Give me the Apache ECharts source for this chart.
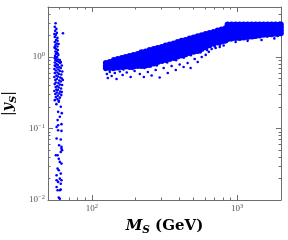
<!DOCTYPE html>
<html><head><meta charset="utf-8">
<script src="https://cdn.jsdelivr.net/npm/echarts@6/dist/echarts.min.js"></script>
<style>html,body{margin:0;padding:0;background:#fff}#c{width:288px;height:240px}</style>
</head><body><div id="c"></div>
<script>
// ---- data ----
const xRange = [50, 2000];
const yRange = [0.01, 5];
const xMajorTicks = [100, 1000];
const xMajorExp = ['2', '3'];
const yMajorTicks = [0.01, 0.1, 1];
const yMajorExp = ['\u22122', '\u22121', '0'];
const xMinorTicks = [60, 70, 80, 90, 200, 300, 400, 500, 600, 700, 800, 900];
const yMinorTicks = [0.02, 0.03, 0.04, 0.05, 0.06, 0.07, 0.08, 0.09, 0.2, 0.3, 0.4, 0.5, 0.6, 0.7, 0.8, 0.9, 2, 3, 4];

// light-scalar strip near M_S ~ 55-63 GeV
const stripPoints = [
[56.4,2.97],[55.7,2.64],[57.1,2.47],[56.0,2.32],[57.5,2.17],[63.4,2.15],[55.3,2.10],[56.6,2.04],[55.7,1.91],[58.0,1.85],
[56.8,1.73],[58.2,1.68],[55.7,1.62],[57.4,1.545],[59.1,1.52],[56.3,1.47],[58.0,1.40],[55.6,1.38],[55.7,1.34],[56.9,1.29],
[58.4,1.25],[56.2,1.195],[57.5,1.16],[58.2,1.12],[56.6,1.10],[58.9,1.07],[55.9,1.03],[57.7,1.00],[55.5,0.968],[56.6,0.952],
[58.6,0.922],[56.2,0.907],[60.3,0.907],[57.5,0.878],[59.3,0.851],[61.2,0.851],[55.7,0.837],[60.7,0.824],[57.1,0.798],[58.4,0.772],
[62.2,0.76],[55.7,0.76],[56.2,0.748],[59.8,0.724],[57.5,0.712],[61.2,0.701],[55.3,0.679],[58.9,0.668],[56.6,0.646],[60.3,0.636],
[62.7,0.626],[58.0,0.606],[55.7,0.597],[59.3,0.578],[61.7,0.568],[57.1,0.55],[58.4,0.532],[55.3,0.524],[60.7,0.516],[62.2,0.50],
[57.5,0.492],[56.2,0.476],[63.2,0.476],[59.8,0.468],[61.2,0.453],[56.6,0.439],[58.9,0.432],[55.6,0.418],[60.3,0.411],[62.5,0.405],
[58.0,0.392],[56.5,0.38],[59.3,0.374],[61.5,0.362],[57.1,0.35],[58.4,0.345],[55.3,0.334],[60.7,0.328],[62.2,0.323],[57.5,0.318],
[59.8,0.308],[56.2,0.303],[61.7,0.293],[58.4,0.288],[56.6,0.275],[60.3,0.27],[58.0,0.258],[55.7,0.249],[59.3,0.246],[59.3,0.237],
[57.1,0.219],[61.2,0.201],[58.7,0.171],[62.2,0.164],[60.3,0.146],[58.2,0.131],[61.9,0.115],[58.7,0.111],[57.3,0.105],[58.7,0.0947],
[61.9,0.0926],[57.3,0.0724],[61.2,0.070],[59.6,0.0584],[61.9,0.0553],[61.9,0.0519],[62.5,0.0497],[61.2,0.047],[58.2,0.0423],[56.6,0.0423],
[59.3,0.0376],[60.3,0.0341],[61.9,0.0323],[58.2,0.0275],[59.3,0.0261],[61.2,0.0234],[57.3,0.0222],[60.3,0.0199],[57.3,0.0189],[61.9,0.0189],
[58.7,0.0179],[61.2,0.0169],[57.3,0.0152],[61.2,0.014],[58.2,0.0137],[60.3,0.0137],[59.3,0.0108],[60.3,0.0104]
];

// dense band: columns of points (x) with their y values
const bandColX = [125,133,142,151,161,171,182,194,207,220,235,250,267,284,303,322,343,366,390,415,442,471,502,535,570,607,646,689,734,781,832,
859,915,975,1039,1107,1179,1256,1338,1425,1518,1618,1723,1835,1955,1995];
const bandColY = [
[0.824,0.748,0.701],
[0.851,0.772,0.701],
[0.907,0.824,0.748,0.701],
[0.937,0.851,0.772,0.71],
[0.968,0.878,0.798,0.724],
[1.0,0.907,0.824,0.736],
[1.03,0.937,0.851,0.772,0.724],
[1.07,0.968,0.878,0.798,0.736],
[1.1,1.0,0.907,0.824,0.748],
[1.16,1.05,0.952,0.864,0.785,0.748],
[1.195,1.085,0.984,0.892,0.811,0.76],
[1.25,1.14,1.03,0.937,0.851,0.772],
[1.29,1.18,1.07,0.968,0.878,0.811],
[1.34,1.21,1.1,1.0,0.907,0.851],
[1.38,1.25,1.14,1.03,0.937,0.878],
[1.45,1.315,1.195,1.085,0.984,0.907],
[1.495,1.36,1.23,1.12,1.015,0.937],
[1.545,1.405,1.27,1.16,1.05,0.968],
[1.62,1.47,1.34,1.21,1.1,1.015],
[1.68,1.52,1.38,1.25,1.14,1.05],
[1.73,1.57,1.43,1.29,1.18,1.09],
[1.81,1.64,1.485,1.35,1.22,1.14],
[1.87,1.7,1.54,1.4,1.27,1.18],
[1.945,1.77,1.6,1.455,1.32,1.21],
[2.02,1.835,1.66,1.505,1.37,1.29],
[2.1,1.91,1.73,1.57,1.43,1.37],
[2.17,1.97,1.79,1.62,1.455],
[2.24,2.04,1.85,1.68,1.545],
[2.34,2.12,1.93,1.75,1.59],
[2.42,2.2,2.0,1.81,1.64],
[2.52,2.29,2.075,1.885,1.7],
[2.84,2.6,2.36,2.14,1.94,1.79],
[2.84,2.6,2.36,2.14,1.94,1.82],
[2.85,2.6,2.36,2.14,1.94,1.85],
[2.84,2.59,2.36,2.15,1.95,1.85],
[2.84,2.6,2.37,2.14,1.94,1.88],
[2.85,2.6,2.36,2.14,1.91],
[2.84,2.6,2.36,2.14,1.94],
[2.84,2.61,2.36,2.14,1.97],
[2.84,2.6,2.36,2.15,2.0],
[2.84,2.6,2.36,2.14,2.04],
[2.85,2.6,2.36,2.14,2.06],
[2.84,2.6,2.36,2.14,2.08],
[2.84,2.6,2.36,2.11],
[2.84,2.6,2.36,2.14],
[2.84,2.6,2.36,2.14]
];

// sparse points along the lower edge of the band
const bandEdgePoints = [
[127,0.578],[129,0.508],[133,0.616],[137,0.541],[144,0.597],[148,0.492],[156,0.626],[163,0.559],[174,0.606],[185,0.524],
[197,0.636],[214,0.578],[228,0.524],[243,0.616],[258,0.55],[275,0.657],[293,0.516],[312,0.701],[333,0.597],[354,0.748],
[378,0.657],[402,0.785],[428,0.724],[456,0.824],[478,0.701],[510,0.937],[535,0.851],[570,1.0],[607,1.07],[638,1.18],
[667,1.29],[711,1.34],[758,1.38],[807,1.45],[975,1.62],[1179,1.68],[1470,1.73],[1800,1.82],
[124,0.66],[140,0.66],[165,0.67],[190,0.68],[230,0.7],[280,0.76],[330,0.84],[380,0.9],[430,0.98],[480,1.06],
[560,1.16],[620,1.25],[700,1.4],[760,1.48],[820,1.6],[900,1.72],[1100,1.8],[1300,1.85],[1600,1.94],[1900,1.97]
];

// ---- chart ----
const bandCore = [];
bandColX.forEach((x, i) => bandColY[i].forEach(y => bandCore.push([x, y])));

const F = "'Liberation Serif','DejaVu Serif',serif";
const FT = "'DejaVu Serif','Liberation Serif',serif";
const AX = '#6e6e6e';
const LBL = '#555';
const labRich = {
  b: {fontFamily: F, fontSize: 9, color: LBL, lineHeight: 12},
  s: {fontFamily: F, fontSize: 6.5, color: LBL, lineHeight: 12, verticalAlign: 'top'}
};
function fmt(ticks, exps) {
  return v => {
    for (let i = 0; i < ticks.length; i++) {
      if (Math.abs(v / ticks[i] - 1) < 1e-6) return '{b|10}{s|' + exps[i] + '}';
    }
    return '';
  };
}
const lg = Math.log10;
function majorX(pos, labels) {
  return {
    type: 'log', min: xRange[0], max: xRange[1], position: pos,
    axisLine: {show: true, onZero: false, lineStyle: {color: AX, width: 1}},
    axisTick: {show: true, inside: true, length: 5, lineStyle: {color: AX}},
    axisLabel: labels ? {show: true, margin: 3, showMinLabel: false, showMaxLabel: false,
      formatter: fmt(xMajorTicks, xMajorExp), rich: labRich} : {show: false},
    splitLine: {show: false}
  };
}
function minorX(pos) {
  return {
    type: 'value', min: lg(xRange[0]), max: lg(xRange[1]), position: pos,
    axisLine: {show: false, onZero: false},
    axisTick: {show: true, inside: true, length: 2.5, lineStyle: {color: AX}, customValues: xMinorTicks.map(lg)},
    axisLabel: {show: false}, splitLine: {show: false}
  };
}
function majorY(pos, labels) {
  return {
    type: 'log', min: yRange[0], max: yRange[1], position: pos,
    axisLine: {show: true, onZero: false, lineStyle: {color: AX, width: 1}},
    axisTick: {show: true, inside: true, length: 5, lineStyle: {color: AX}},
    axisLabel: labels ? {show: true, margin: 3, showMinLabel: true, showMaxLabel: false,
      formatter: fmt(yMajorTicks, yMajorExp), rich: labRich} : {show: false},
    splitLine: {show: false}
  };
}
function minorY(pos) {
  return {
    type: 'value', min: lg(yRange[0]), max: lg(yRange[1]), position: pos,
    axisLine: {show: false, onZero: false},
    axisTick: {show: true, inside: true, length: 2.5, lineStyle: {color: AX}, customValues: yMinorTicks.map(lg)},
    axisLabel: {show: false}, splitLine: {show: false}
  };
}

const x0 = majorX('bottom', true);
x0.name = '{m|M}{s|S}{g| (GeV)}';
x0.nameLocation = 'middle';
x0.nameGap = 16;
x0.nameTextStyle = {rich: {
  m: {fontFamily: FT, fontSize: 15, fontWeight: 'bold', fontStyle: 'italic', color: '#000', lineHeight: 19},
  s: {fontFamily: FT, fontSize: 10.5, fontWeight: 'bold', fontStyle: 'italic', color: '#000', lineHeight: 19, verticalAlign: 'bottom'},
  g: {fontFamily: FT, fontSize: 15, fontWeight: 'bold', color: '#000', lineHeight: 19}
}};
const y0 = majorY('left', true);
y0.name = '{b||}{m|y}{s|S}{b||}';
y0.nameLocation = 'middle';
y0.nameGap = 22;
y0.nameRotate = 90;
y0.nameTextStyle = {rich: {
  b: {fontFamily: FT, fontSize: 14, color: '#000', lineHeight: 19},
  m: {fontFamily: FT, fontSize: 14, fontWeight: 'bold', fontStyle: 'italic', color: '#000', lineHeight: 19},
  s: {fontFamily: FT, fontSize: 10, fontWeight: 'bold', fontStyle: 'italic', color: '#000', lineHeight: 19, verticalAlign: 'bottom'}
}};

const dot = {color: '#0000ff', opacity: 1, borderWidth: 0};
const chart = echarts.init(document.getElementById('c'), null, {renderer: 'canvas'});
chart.setOption({
  animation: false,
  backgroundColor: '#fff',
  grid: {left: 48, right: 7, top: 7, bottom: 40, containLabel: false, outerBoundsMode: 'none'},
  xAxis: [x0, majorX('top', false), minorX('bottom'), minorX('top')],
  yAxis: [y0, majorY('right', false), minorY('left'), minorY('right')],
  series: [
    {type: 'scatter', xAxisIndex: 0, yAxisIndex: 0, data: bandCore, symbol: 'circle', symbolSize: 6,
     itemStyle: dot, silent: true, clip: true},
    {type: 'scatter', xAxisIndex: 0, yAxisIndex: 0, data: bandEdgePoints, symbol: 'circle', symbolSize: 2.6,
     itemStyle: dot, silent: true, clip: true},
    {type: 'scatter', xAxisIndex: 0, yAxisIndex: 0, data: stripPoints, symbol: 'circle', symbolSize: 2.6,
     itemStyle: dot, silent: true, clip: true}
  ]
});
</script></body></html>
